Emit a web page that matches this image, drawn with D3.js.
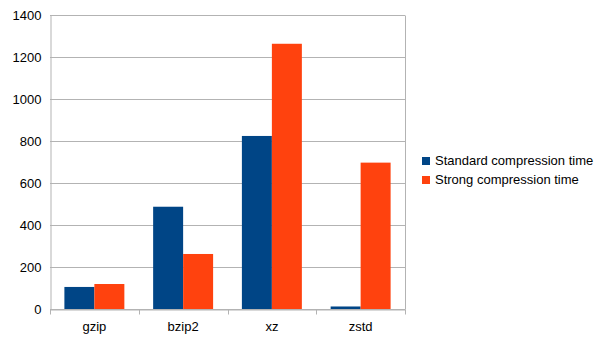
<!DOCTYPE html>
<html><head><meta charset="utf-8">
<script src="https://cdn.jsdelivr.net/npm/d3@7"></script>
<style>body{margin:0;background:#fff}svg{display:block}text{font-family:"Liberation Sans",Arial,sans-serif}</style>
</head><body>
<script>
const categories = ["gzip", "bzip2", "xz", "zstd"];
const seriesNames = ["Standard compression time", "Strong compression time"];
const standardTimes = [105, 487, 824, 12];
const strongTimes = [119, 262, 1263, 697];
const yTicks = [0, 200, 400, 600, 800, 1000, 1200, 1400];
const colors = ["#004586", "#ff420e"];

const W = 605, H = 340;
const m = {left: 50, right: 200, top: 15, bottom: 31};
const svg = d3.select("body").append("svg").attr("width", W).attr("height", H);

const x = d3.scaleBand().domain(categories).range([m.left, W - m.right]);
const y = d3.scaleLinear().domain([0, 1400]).range([H - m.bottom, m.top]);
const inner = d3.scaleBand().domain([0, 1]).range([0, x.bandwidth()]).paddingOuter(0.48).paddingInner(0);

// gridlines
svg.append("g").selectAll("line").data(yTicks).join("line")
  .attr("x1", m.left).attr("x2", W - m.right)
  .attr("y1", d => Math.round(y(d)) + 0.5).attr("y2", d => Math.round(y(d)) + 0.5)
  .attr("stroke", "#b3b3b3").attr("stroke-width", 1);
// right border
svg.append("line").attr("x1", W - m.right + 0.5).attr("x2", W - m.right + 0.5)
  .attr("y1", Math.round(y(1400)) + 0.5).attr("y2", Math.round(y(0)) + 0.5).attr("stroke", "#b3b3b3");

// bars
const data = categories.map((c, i) => ({c, vals: [standardTimes[i], strongTimes[i]]}));
const g = svg.append("g").selectAll("g").data(data).join("g")
  .attr("transform", d => `translate(${x(d.c)},0)`);
g.selectAll("rect").data(d => d.vals.map((v, k) => ({v, k}))).join("rect")
  .attr("x", d => inner(d.k)).attr("width", inner.bandwidth())
  .attr("y", d => y(d.v)).attr("height", d => y(0) - y(d.v))
  .attr("fill", d => colors[d.k]);

// y axis
const yAxis = d3.axisLeft(y).tickValues(yTicks).tickFormat(d3.format("d")).tickSize(0).tickPadding(9);
const ya = svg.append("g").attr("transform", `translate(${m.left + 0.5},0)`).call(yAxis);
ya.select(".domain").attr("stroke", "#b3b3b3");
ya.selectAll("text").attr("font-size", 13).attr("fill", "#000").attr("font-family", "Liberation Sans, Arial, sans-serif");

// x axis
const xAxis = d3.axisBottom(x).tickSize(0).tickPadding(12);
const xa = svg.append("g").attr("transform", `translate(0,${Math.round(y(0)) + 0.5})`).call(xAxis);
xa.select(".domain").attr("stroke", "#b3b3b3");
xa.selectAll("text").attr("font-size", 13).attr("fill", "#000").attr("font-family", "Liberation Sans, Arial, sans-serif");
const bounds = categories.map(c => x(c)).concat([x(categories[categories.length - 1]) + x.bandwidth()]);
xa.selectAll(".bt").data(bounds).join("line").attr("class", "bt")
  .attr("x1", d => Math.round(d) + 0.5).attr("x2", d => Math.round(d) + 0.5)
  .attr("y1", 0).attr("y2", 5).attr("stroke", "#b3b3b3");

// legend
const lg = svg.append("g").attr("transform", "translate(422,157)");
const li = lg.selectAll("g").data(seriesNames).join("g").attr("transform", (d, i) => `translate(0,${i * 19})`);
li.append("rect").attr("width", 8).attr("height", 8).attr("fill", (d, i) => colors[i]);
li.append("text").attr("x", 13).attr("y", 8).attr("font-size", 13).attr("fill", "#000").text(d => d);
</script>
</body></html>
